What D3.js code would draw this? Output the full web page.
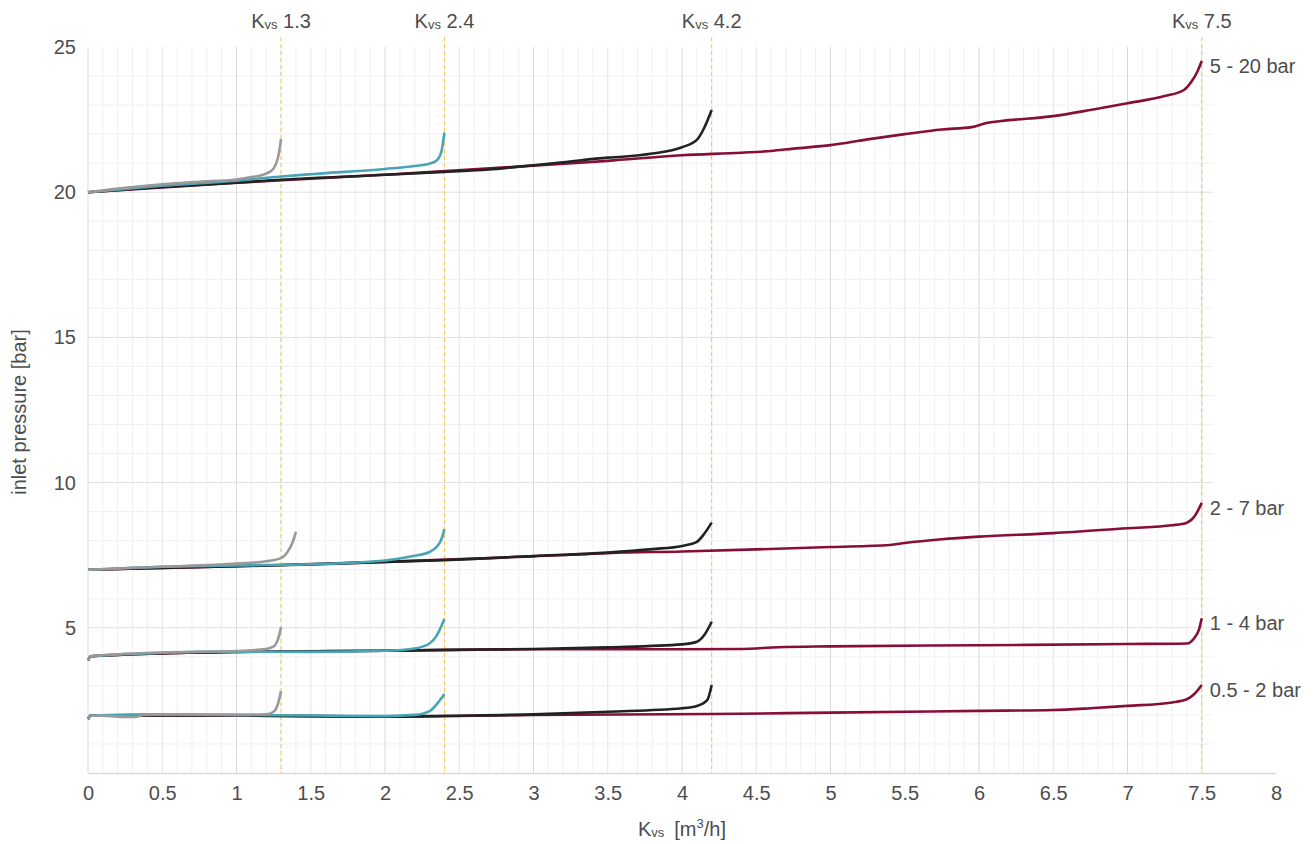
<!DOCTYPE html>
<html lang="en">
<head>
<meta charset="UTF-8">
<title>Kvs inlet pressure</title>
<script src="https://cdn.jsdelivr.net/npm/d3@7/dist/d3.min.js"></script>
<style>
    body { margin: 0; background: #fff; }
    svg text { font-family: "Liberation Sans", Arial, sans-serif; fill: #4d4d4d; }
</style>
</head>
<body>
<div id="chart"></div>
<script>
// valve sizes (Kvs) and pressure ranges
const kvsValues = [1.3, 2.4, 4.2, 7.5];
const rangeLabels = ["5 - 20 bar", "2 - 7 bar", "1 - 4 bar", "0.5 - 2 bar"];
const xTicks = [0, 0.5, 1, 1.5, 2, 2.5, 3, 3.5, 4, 4.5, 5, 5.5, 6, 6.5, 7, 7.5, 8];
const yTicks = [5, 10, 15, 20, 25];

// curves: [Kvs, inlet pressure]
// 5 - 20 bar
const kvs13_20 = [[0,20.0],[0.25,20.15],[0.5,20.27],[0.75,20.36],[1.0,20.44],[1.1,20.52],[1.2,20.64],[1.25,20.82],[1.28,21.2],[1.3,21.83]];
const kvs24_20 = [[0,20.0],[0.5,20.22],[1.0,20.4],[1.3,20.54],[1.5,20.62],[2.0,20.8],[2.2,20.9],[2.3,20.98],[2.35,21.1],[2.38,21.4],[2.4,22.05]];
const kvs42_20 = [[0,20.0],[0.5,20.18],[1.0,20.33],[1.3,20.43],[2.0,20.6],[2.4,20.7],[2.7,20.78],[2.9,20.88],[3.2,21.03],[3.5,21.19],[3.6,21.22],[3.8,21.33],[4.0,21.55],[4.1,21.8],[4.15,22.22],[4.2,22.83]];
const kvs75_20 = [[0,20.0],[1.0,20.33],[2.0,20.6],[2.9,20.88],[3.5,21.08],[4.0,21.27],[4.4,21.36],[4.6,21.42],[4.75,21.5],[5.0,21.62],[5.25,21.82],[5.5,22.0],[5.75,22.16],[5.95,22.24],[6.05,22.38],[6.15,22.45],[6.5,22.62],[6.75,22.83],[7.0,23.06],[7.25,23.31],[7.38,23.52],[7.43,23.8],[7.47,24.15],[7.5,24.52]];

// 2 - 7 bar
const kvs13_7 = [[0,7.0],[0.5,7.1],[1.0,7.21],[1.2,7.29],[1.3,7.4],[1.33,7.52],[1.36,7.75],[1.38,7.97],[1.4,8.3]];
const kvs24_7 = [[0,7.0],[0.5,7.1],[1.0,7.15],[1.5,7.19],[2.0,7.32],[2.2,7.48],[2.3,7.61],[2.35,7.8],[2.38,8.05],[2.4,8.4]];
const kvs42_7 = [[0,7.0],[1.0,7.12],[1.5,7.18],[2.0,7.27],[2.4,7.33],[3.0,7.47],[3.5,7.59],[3.8,7.71],[4.0,7.82],[4.1,7.96],[4.15,8.24],[4.2,8.62]];
const kvs75_7 = [[0,7.0],[1.0,7.12],[2.0,7.27],[3.0,7.46],[3.5,7.57],[4.0,7.63],[4.5,7.7],[5.0,7.78],[5.4,7.85],[5.5,7.92],[5.75,8.05],[6.0,8.14],[6.5,8.26],[7.0,8.43],[7.3,8.53],[7.4,8.62],[7.45,8.83],[7.5,9.3]];

// 1 - 4 bar
const kvs13_4 = [[0,3.88],[0.02,4.02],[0.5,4.15],[1.0,4.2],[1.2,4.27],[1.25,4.36],[1.28,4.62],[1.3,5.02]];
const kvs24_4 = [[0,3.88],[0.02,4.02],[0.5,4.14],[1.0,4.18],[1.5,4.17],[2.0,4.21],[2.2,4.29],[2.3,4.46],[2.35,4.75],[2.4,5.3]];
const kvs42_4 = [[0,3.88],[0.02,4.02],[1.0,4.17],[2.0,4.21],[2.4,4.24],[3.0,4.27],[3.5,4.33],[4.0,4.43],[4.1,4.52],[4.15,4.75],[4.2,5.21]];
const kvs75_4 = [[0,3.88],[0.02,4.02],[1.0,4.17],[2.0,4.21],[3.0,4.26],[4.0,4.26],[4.4,4.27],[4.65,4.33],[5.0,4.36],[6.0,4.4],[7.0,4.44],[7.4,4.46],[7.45,4.65],[7.48,4.92],[7.5,5.33]];

// 0.5 - 2 bar
const kvs13_2 = [[0,1.86],[0.02,1.97],[0.1,1.97],[0.25,1.93],[0.32,1.93],[0.37,2.0],[0.5,2.02],[1.0,2.0],[1.2,2.02],[1.25,2.11],[1.28,2.4],[1.3,2.82]];
const kvs24_2 = [[0,1.86],[0.02,1.98],[0.5,2.02],[1.0,2.0],[1.5,1.98],[2.0,1.96],[2.2,2.0],[2.3,2.13],[2.35,2.38],[2.4,2.72]];
const kvs42_2 = [[0,1.86],[0.02,1.98],[1.0,1.98],[2.0,1.94],[2.4,1.97],[3.0,2.02],[3.5,2.11],[4.0,2.23],[4.1,2.31],[4.17,2.51],[4.2,3.03]];
const kvs75_2 = [[0,1.86],[0.02,1.98],[1.0,1.98],[2.0,1.94],[3.0,2.0],[4.2,2.03],[5.0,2.08],[6.0,2.14],[6.5,2.17],[6.75,2.23],[7.0,2.31],[7.3,2.43],[7.4,2.54],[7.45,2.72],[7.5,3.03]];

// one entry per valve, curves in range order (top to bottom)
const valves = [
    { kvs: 7.5, curves: [kvs75_20, kvs75_7, kvs75_4, kvs75_2] },
    { kvs: 4.2, curves: [kvs42_20, kvs42_7, kvs42_4, kvs42_2] },
    { kvs: 2.4, curves: [kvs24_20, kvs24_7, kvs24_4, kvs24_2] },
    { kvs: 1.3, curves: [kvs13_20, kvs13_7, kvs13_4, kvs13_2] }
];
const lineColor = { 1.3: "#999999", 2.4: "#47a5b6", 4.2: "#222222", 7.5: "#870d3a" };

const width = 1315, height = 844;
const x = d3.scaleLinear().domain([0, 8]).range([88, 1276]);
const y = d3.scaleLinear().domain([0, 25]).range([773, 47]);
const gridRight = x(7.58);

const svg = d3.select("#chart").append("svg")
    .attr("width", width)
    .attr("height", height);

// grid
const grid = svg.append("g");
const minorX = d3.range(0, 76).map(i => i / 10).filter((v, i) => i % 5 !== 0);
grid.selectAll("line.vminor").data(minorX).enter().append("line")
    .attr("x1", d => x(d)).attr("x2", d => x(d))
    .attr("y1", y(25)).attr("y2", y(0))
    .attr("stroke", "#f0f0f0");
grid.selectAll("line.hminor").data(d3.range(1, 25).filter(v => v % 5 !== 0)).enter().append("line")
    .attr("x1", x(0)).attr("x2", gridRight)
    .attr("y1", d => y(d)).attr("y2", d => y(d))
    .attr("stroke", "#f0f0f0");
grid.selectAll("line.vhalf").data(d3.range(0.5, 7.6, 1)).enter().append("line")
    .attr("x1", d => x(d)).attr("x2", d => x(d))
    .attr("y1", y(25)).attr("y2", y(0))
    .attr("stroke", "#e4e4e4");
grid.selectAll("line.vmajor").data(d3.range(0, 8)).enter().append("line")
    .attr("x1", d => x(d)).attr("x2", d => x(d))
    .attr("y1", y(25)).attr("y2", y(0))
    .attr("stroke", "#d9d9d9");
grid.selectAll("line.hmajor").data([5, 10, 15, 20]).enter().append("line")
    .attr("x1", x(0)).attr("x2", gridRight)
    .attr("y1", d => y(d)).attr("y2", d => y(d))
    .attr("stroke", "#e0e0e0");

// axes
const xAxis = svg.append("g")
    .attr("transform", `translate(0,${y(0)})`)
    .call(d3.axisBottom(x).tickValues(xTicks).tickSize(0).tickPadding(13).tickFormat(d3.format("")));
xAxis.select(".domain").attr("stroke", "#d9d9d9").attr("stroke-width", 1.5);
xAxis.selectAll("text").attr("font-size", 20).attr("fill", "#4d4d4d");

const yAxis = svg.append("g")
    .attr("transform", `translate(${x(0)},0)`)
    .call(d3.axisLeft(y).tickValues(yTicks).tickSize(0).tickPadding(12));
yAxis.select(".domain").remove();
yAxis.selectAll("text").attr("font-size", 20).attr("fill", "#4d4d4d");

// axis titles
svg.append("text")
    .attr("transform", `translate(26,412) rotate(-90)`)
    .attr("text-anchor", "middle")
    .attr("font-size", 20)
    .text("inlet pressure [bar]");

const xTitle = svg.append("text")
    .attr("x", 682).attr("y", 836)
    .attr("text-anchor", "middle")
    .attr("font-size", 20);
xTitle.append("tspan").text("K");
xTitle.append("tspan").attr("font-size", 13).attr("dy", 1).text("vs");
xTitle.append("tspan").attr("dy", -1).attr("dx", 10).text("[m");
xTitle.append("tspan").attr("font-size", 13).attr("dy", -8).text("3");
xTitle.append("tspan").attr("dy", 8).text("/h]");

// Kvs reference lines
svg.append("g").selectAll("line").data(kvsValues).enter().append("line")
    .attr("x1", d => x(d)).attr("x2", d => x(d))
    .attr("y1", 37).attr("y2", y(0))
    .attr("stroke", "#f6c344")
    .attr("stroke-width", 1)
    .attr("stroke-dasharray", "4,3");

const kvsLabel = svg.append("g").selectAll("text").data(kvsValues).enter().append("text")
    .attr("x", d => x(d)).attr("y", 28)
    .attr("text-anchor", "middle")
    .attr("font-size", 20);
kvsLabel.append("tspan").text("K");
kvsLabel.append("tspan").attr("font-size", 13).attr("dy", 1).text("vs");
kvsLabel.append("tspan").attr("dy", -1).text(d => " " + d);

// curves
const line = d3.line()
    .x(d => x(d[0]))
    .y(d => y(d[1]))
    .curve(d3.curveMonotoneX);

svg.append("g").selectAll("g").data(valves).enter().append("g")
    .attr("stroke", d => lineColor[d.kvs])
    .selectAll("path").data(d => d.curves).enter().append("path")
    .attr("d", line)
    .attr("fill", "none")
    .attr("stroke-width", 2.6)
    .attr("stroke-linejoin", "round");

// range labels at the end of the Kvs 7.5 curves
svg.append("g").selectAll("text").data(valves[0].curves).enter().append("text")
    .attr("x", d => x(d[d.length - 1][0]) + 8)
    .attr("y", d => y(d[d.length - 1][1]) + 12)
    .attr("font-size", 20)
    .text((d, i) => rangeLabels[i]);
</script>
</body>
</html>
